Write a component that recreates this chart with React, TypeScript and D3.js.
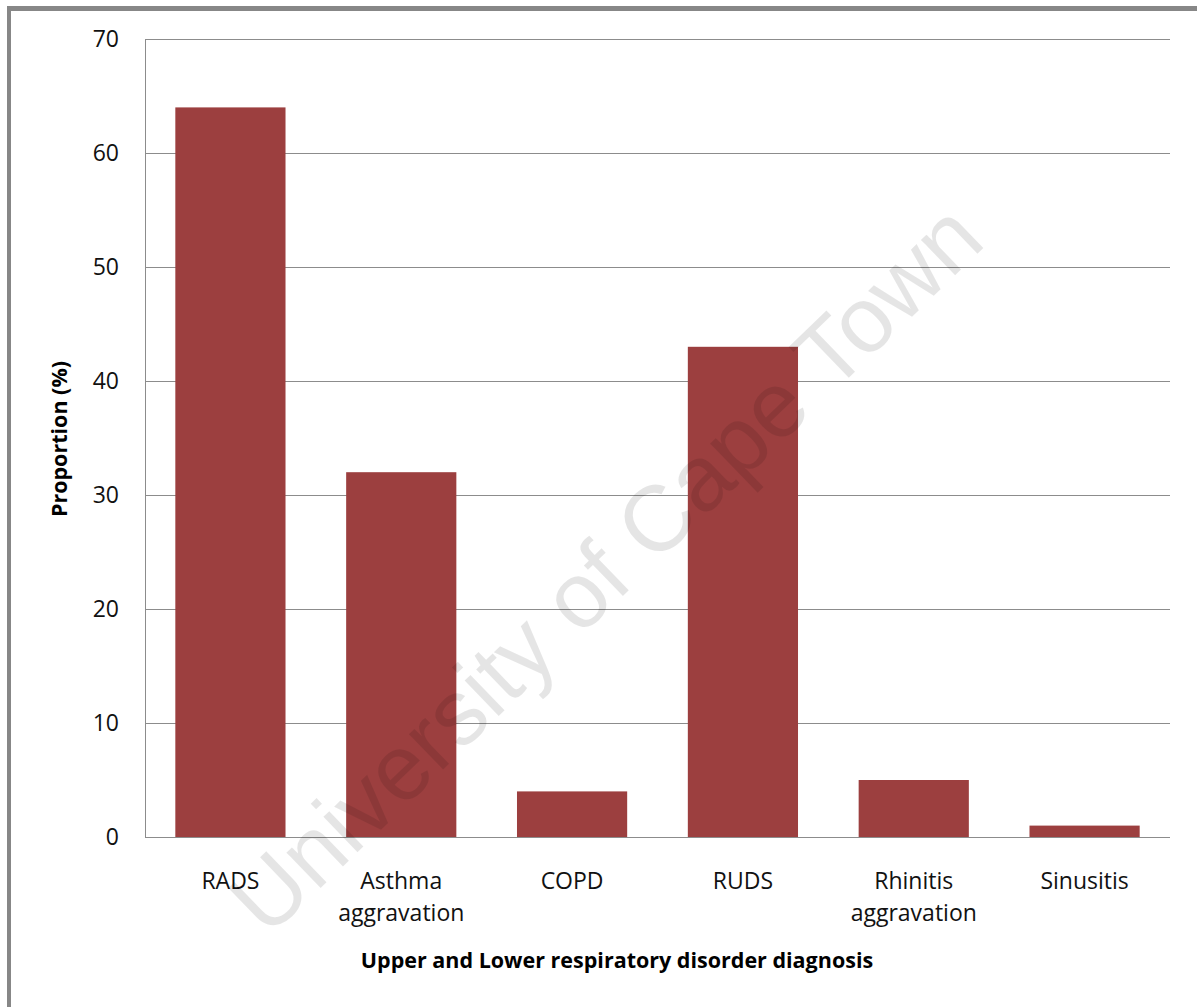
import React from "react";
import * as d3 from "d3";

const categories: string[][] = [
  ["RADS"],
  ["Asthma", "aggravation"],
  ["COPD"],
  ["RUDS"],
  ["Rhinitis", "aggravation"],
  ["Sinusitis"],
];
const values: number[] = [64, 32, 4, 43, 5, 1];
const yTicks: number[] = [0, 10, 20, 30, 40, 50, 60, 70];

const W = 1197;
const H = 1007;
const FONT = "'Open Sans', sans-serif";

export default function App() {
  const left = 145, right = 1170, top = 39, bottom = 837;
  const x = d3
    .scaleBand<number>()
    .domain(values.map((_, i) => i))
    .range([left, right])
    .paddingInner(0.355)
    .paddingOuter(0.1775);
  const y = d3.scaleLinear().domain([0, 70]).range([bottom, top]);

  return (
    <svg
      width={W}
      height={H}
      style={{ position: "absolute", left: 0, top: 0, background: "#fff" }}
    >
      <rect x={0} y={0} width={W} height={H} fill="#fff" />
      {/* frame */}
      <line x1={9} y1={8.5} x2={W} y2={8.5} stroke="#878787" strokeWidth={5} />
      <line x1={9} y1={6} x2={9} y2={H} stroke="#878787" strokeWidth={4} />

      {/* gridlines */}
      {yTicks.map((t) => (
        <line
          key={"g" + t}
          x1={left}
          x2={right}
          y1={Math.round(y(t)) + 0.5}
          y2={Math.round(y(t)) + 0.5}
          stroke="#8c8c8c"
          strokeWidth={1}
        />
      ))}
      <line x1={left + 0.5} x2={left + 0.5} y1={top} y2={bottom} stroke="#8c8c8c" />

      {/* bars */}
      {values.map((v, i) => (
        <rect
          key={"b" + i}
          x={x(i)}
          y={y(v)}
          width={x.bandwidth()}
          height={bottom - y(v)}
          fill="#9c3f3f"
        />
      ))}
      <line x1={left} x2={right} y1={bottom + 0.5} y2={bottom + 0.5} stroke="#8c8c8c" />

      {/* y tick labels */}
      {yTicks.map((t) => (
        <text
          key={"t" + t}
          x={119}
          y={y(t)}
          dy="0.36em"
          textAnchor="end"
          fontFamily={FONT}
          fontSize={23}
          fill="#111"
        >
          {t}
        </text>
      ))}

      {/* x labels */}
      {categories.map((lines, i) => (
        <text
          key={"x" + i}
          x={(x(i) as number) + x.bandwidth() / 2}
          y={889}
          textAnchor="middle"
          fontFamily={FONT}
          fontSize={23}
          fill="#111"
        >
          {lines.map((l, j) => (
            <tspan key={j} x={(x(i) as number) + x.bandwidth() / 2} dy={j === 0 ? 0 : 32}>
              {l}
            </tspan>
          ))}
        </text>
      ))}

      {/* axis titles */}
      <text
        x={617}
        y={968}
        textAnchor="middle"
        fontFamily={FONT}
        fontSize={21.5}
        fontWeight="bold"
        fill="#000"
      >
        Upper and Lower respiratory disorder diagnosis
      </text>
      <text
        transform="translate(67,439) rotate(-90)"
        textAnchor="middle"
        fontFamily={FONT}
        fontSize={21.5}
        fontWeight="bold"
        fill="#000"
      >
        Proportion (%)
      </text>

      {/* watermark */}
      <text
        transform="translate(605,568) rotate(-44)"
        textAnchor="middle"
        dy="0.35em"
        fontFamily="'Liberation Sans', Arial, sans-serif"
        fontSize={93}
        fill="#000"
        fillOpacity={0.1}
      >
        University of Cape Town
      </text>
    </svg>
  );
}
